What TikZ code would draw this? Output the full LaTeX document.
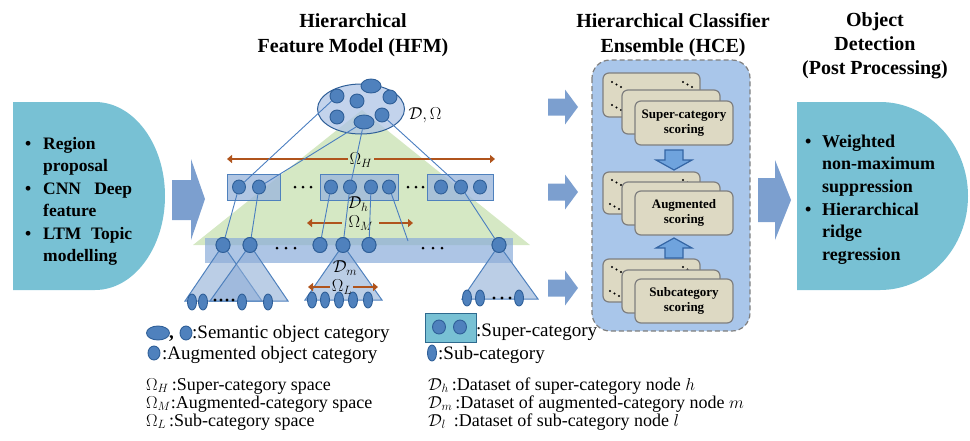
\documentclass[tikz,border=0pt]{standalone}
\usepackage{fontspec}
\setmainfont{Liberation Serif}
\usetikzlibrary{shapes.geometric,arrows.meta}
\definecolor{cyanD}{HTML}{78C1D4}
\definecolor{barrow}{HTML}{7C9FCF}
\definecolor{hcefill}{HTML}{A9C6EA}
\definecolor{cardfill}{HTML}{DDD9C3}
\definecolor{cardline}{HTML}{7F7F7F}
\definecolor{catfill}{HTML}{4F81BD}
\definecolor{catline}{HTML}{2F5F98}
\definecolor{linkc}{HTML}{4A7EC0}
\definecolor{greenT}{HTML}{D5E8C4}
\definecolor{bandc}{HTML}{8AACDA}
\definecolor{brownc}{HTML}{B0541C}
\definecolor{triFill}{HTML}{8EADD6}
\definecolor{boxfill}{HTML}{9DB8DC}
\definecolor{ellfill}{HTML}{AFC4E6}
\definecolor{sarrow}{HTML}{6FA3DD}
\definecolor{sarrowl}{HTML}{3465A4}
\definecolor{legbox}{HTML}{2E6A8E}
\begin{document}
\begin{tikzpicture}[x=1pt,y=-1pt,
  cat/.style={ellipse, draw=catline, fill=catfill, line width=0.9pt, inner sep=0pt, minimum width=13pt, minimum height=14pt},
  bigcat/.style={cat, minimum width=20pt, minimum height=14pt},
  aug/.style={cat, minimum width=14pt, minimum height=15pt},
  leaf/.style={cat, minimum width=9pt, minimum height=16pt},
  link/.style={draw=linkc, line width=0.9pt},
  hbox/.style={rectangle, draw=catfill, line width=1pt, fill=boxfill, fill opacity=0.8, inner sep=0pt, minimum height=26pt},
  tree/.style={draw=catfill, line width=1pt, fill=triFill, fill opacity=0.6},
  brar/.style={draw=brownc, line width=2.6pt},
  mathlab/.style={font=\fontsize{18}{20}\selectfont, inner sep=0pt},
  title/.style={font=\fontsize{20}{24.5}\selectfont\bfseries, inner sep=0pt, anchor=base},
  btext/.style={anchor=base west, font=\fontsize{17.5}{20}\selectfont\bfseries, inner sep=0pt},
  rtext/.style={anchor=base west, font=\fontsize{18}{20}\selectfont\bfseries, inner sep=0pt},
  legtext/.style={anchor=base west, font=\fontsize{18}{20}\selectfont, inner sep=0pt},
  card/.style={draw=cardline, fill=cardfill, line width=1.2pt, rounded corners=6pt},
  cardtext/.style={align=center, font=\fontsize{13}{15.5}\selectfont\bfseries, inner sep=0pt},
  dotc/.style={fill=black}
]
\useasboundingbox (0,0) rectangle (970,440);

% ---------- titles
\node[title] (t1a) at (353,27) {Hierarchical};
\node[title] (t1b) at (353,52) {Feature Model (HFM)};
\node[title] (t2a) at (673,27) {Hierarchical Classifier};
\node[title] (t2b) at (673,52) {Ensemble (HCE)};
\node[title] (t3a) at (875,26) {Object};
\node[title] (t3b) at (875,50) {Detection};
\node[title] (t3c) at (875,74) {(Post Processing)};

% ---------- left input shape
\fill[cyanD] (13,102) -- (95,102) .. controls (133.7,102) and (165,144.1) .. (165,196)
  .. controls (165,247.9) and (133.7,290) .. (95,290) -- (13,290) -- cycle;
\node[btext] at (25,149) {\textbullet};
\node[btext] (r1) at (43,149) {Region};
\node[btext] (r2) at (43,171) {proposal};
\node[btext] at (25,194) {\textbullet};
\node[btext] (r3) at (43,194) {\makebox[89pt][s]{CNN Deep}};
\node[btext] (r4) at (43,216) {feature};
\node[btext] at (25,239) {\textbullet};
\node[btext] (r5) at (43,239) {\makebox[89pt][s]{LTM Topic}};
\node[btext] (r6) at (43,261) {modelling};

% ---------- right output shape
\fill[cyanD] (797,102) -- (880,102) .. controls (928.6,102) and (968,144.1) .. (968,196)
  .. controls (968,247.9) and (928.6,290) .. (880,290) -- (797,290) -- cycle;
\node[rtext] at (805,147) {\textbullet};
\node[rtext] (o1) at (822,147) {Weighted};
\node[rtext] (o2) at (822,169.5) {non-maximum};
\node[rtext] (o3) at (822,192) {suppression};
\node[rtext] at (805,215) {\textbullet};
\node[rtext] (o4) at (822,215) {Hierarchical};
\node[rtext] (o5) at (822,237) {ridge};
\node[rtext] (o6) at (822,260) {regression};

% ---------- block arrows
\fill[barrow] (172,180) -- (191,180) -- (191,159) -- (205,199) -- (191,240) -- (191,220) -- (172,220) -- cycle;
\foreach \t in {107,192,288}{
  \fill[barrow] (548,\t-8.5) -- (565,\t-8.5) -- (565,\t-17.5) -- (578,\t) -- (565,\t+17.5) -- (565,\t+8.5) -- (548,\t+8.5) -- cycle;
}
\fill[barrow] (758,178) -- (775,178) -- (775,160) -- (791,200) -- (775,240) -- (775,222) -- (758,222) -- cycle;

% ---------- HCE
\draw[draw=gray, fill=hcefill, rounded corners=18pt, line width=1.2pt, dash pattern=on 5pt off 3pt] (592,60) rectangle (750,331);
% top stack
\draw[card] (603,73) rectangle (700,117);
\foreach \dx/\dy in {0/0,4.5/2.5,9/5}{
  \fill[dotc] (612+\dx,82+\dy) circle (1.2);
  \fill[dotc] (683+\dx,82+\dy) circle (1.2);
  \fill[dotc] (612+\dx,105+\dy) circle (1.2);
}
\draw[card] (622,90) rectangle (720,134);
\draw[card] (635,101) rectangle (733,145);
\node[cardtext] (c1) at (684,123) {Super-category\\scoring};
% middle stack
\draw[card] (603,172) rectangle (700,214);
\foreach \dx/\dy in {0/0,4.5/2.5,9/5}{
  \fill[dotc] (612+\dx,180+\dy) circle (1.2);
  \fill[dotc] (683+\dx,180+\dy) circle (1.2);
  \fill[dotc] (610+\dx,204+\dy) circle (1.2);
}
\draw[card] (622,182) rectangle (720,225);
\draw[card] (635,191) rectangle (733,235);
\node[cardtext] (c2) at (684,213) {Augmented\\scoring};
% bottom stack
\draw[card] (603,259) rectangle (700,302);
\foreach \dx/\dy in {0/0,4.5/2.5,9/5}{
  \fill[dotc] (612+\dx,267+\dy) circle (1.2);
  \fill[dotc] (683+\dx,267+\dy) circle (1.2);
  \fill[dotc] (610+\dx,291+\dy) circle (1.2);
}
\draw[card] (622,270) rectangle (720,313);
\draw[card] (635,279) rectangle (733,323);
\node[cardtext] (c3) at (684,301) {Subcategory\\scoring};
% small arrows
\draw[fill=sarrow, draw=sarrowl, line width=1.2pt] (665,150) -- (683,150) -- (683,160) -- (692,160) -- (674,170) -- (656,160) -- (665,160) -- cycle;
\draw[fill=sarrow, draw=sarrowl, line width=1.2pt] (665,258) -- (683,258) -- (683,248) -- (692,248) -- (674,238) -- (656,248) -- (665,248) -- cycle;

% ---------- HFM
\fill[greenT] (362,110) -- (530,245) -- (193,245) -- cycle;
\node[ellipse, draw=catline, line width=1pt, fill=ellfill, fill opacity=0.75, minimum width=87pt, minimum height=50pt, inner sep=0pt] (sem) at (361,109) {};
\node[cat, minimum width=14pt] (s1) at (337,96) {};
\node[bigcat] (s2) at (371,86) {};
\node[cat, minimum width=14pt] (s3) at (390,97) {};
\node[cat, minimum width=14pt] (s4) at (357,101) {};
\node[cat, minimum width=14pt] (s5) at (337,117) {};
\node[bigcat] (s6) at (364,122) {};
\node[cat, minimum width=14pt] (s7) at (382,115) {};
\node[mathlab] (DO) at (425,115) {$\mathcal{D},\Omega$};

% Omega_H arrow
\coordinate (OHl) at (227,159); \coordinate (OHa) at (348,159);
\coordinate (OHb) at (374,159); \coordinate (OHr) at (495,159);
\draw[brar, {Triangle[length=5pt,width=8pt]}-] (OHl) -- (OHa);
\draw[brar, -{Triangle[length=5pt,width=8pt]}] (OHb) -- (OHr);
\node[mathlab] (OH) at (361,160) {$\Omega_H$};

% super-category boxes
\node[hbox, minimum width=53pt] (hb1) at (253.5,187) {};
\node[hbox, minimum width=78pt] (hb2) at (359,187) {};
\node[hbox, minimum width=66pt] (hb3) at (460,187) {};

\node[cat] (h11) at (239,187) {};
\node[cat] (h12) at (259,187) {};
\node[cat] (h21) at (331,187) {};
\node[cat] (h22) at (350,187) {};
\node[cat] (h23) at (371,187) {};
\node[cat] (h24) at (389,187) {};
\node[cat] (h31) at (441,187) {};
\node[cat] (h32) at (461,187) {};
\node[cat] (h33) at (480,187) {};

% links level 1 -> 2
\draw[link] (s1) -- (h11);
\draw[link] (s6) -- (h12);
\draw[link] (s6) -- (h22);
\draw[link] (s7) -- (h32);

\foreach \x in {295,303,311,408,416,423} \fill[dotc] (\x,187) circle (1.5);
\node[mathlab] (Dh) at (358,204) {$\mathcal{D}_h$};

% Omega_M arrow
\coordinate (OMl) at (307,223); \coordinate (OMa) at (342,223);
\coordinate (OMb) at (379,223); \coordinate (OMr) at (413,223);
\draw[brar, {Triangle[length=5pt,width=8pt]}-] (OMl) -- (OMa);
\draw[brar, -{Triangle[length=5pt,width=8pt]}] (OMb) -- (OMr);
\node[mathlab] (OM) at (361,223) {$\Omega_M$};

% band
\fill[bandc, fill opacity=0.7] (205,238) rectangle (513,263);

% row 3 nodes
\node[aug] (m1) at (223,245) {};
\node[aug] (m2) at (250,245) {};
\node[aug] (m3) at (320,245) {};
\node[aug] (m4) at (343,245) {};
\node[aug] (m5) at (369,245) {};
\node[aug] (m6) at (499,245) {};
\coordinate (mfree) at (408,241);

% trees
\filldraw[tree] (m1.center) -- (185,301) -- (262,301) -- cycle;
\filldraw[tree] (m2.center) -- (210,301) -- (288,301) -- cycle;
\filldraw[tree] (m4.center) -- (305,300) -- (382,300) -- cycle;
\filldraw[tree] (m6.center) -- (462,299) -- (538,299) -- cycle;

% links level 2 -> 3
\draw[link] (h11) -- (m1);
\draw[link] (h12) -- (m2);
\draw[link] (h21) -- (m3);
\draw[link] (h22) -- (m4);
\draw[link] (h23) -- (m5);
\draw[link] (h24) -- (mfree);
\draw[link] (h32) -- (m6);

% redraw row 3 nodes on top
\node[aug] at (m1) {};
\node[aug] at (m2) {};
\node[aug] at (m3) {};
\node[aug] at (m4) {};
\node[aug] at (m5) {};
\node[aug] at (m6) {};
\foreach \x in {277,286,295,423,433,442} \fill[dotc] (\x,248) circle (1.5);

% leaves
\node[leaf] (l1) at (192,302) {};
\node[leaf] (l2) at (203,302) {};
\node[leaf] (l3) at (242,302) {};
\node[leaf] (l4) at (268,302) {};
\foreach \x in {215,221,227,233} \fill[dotc] (\x,300) circle (1.6);
\node[leaf] (l5) at (312,300) {};
\node[leaf] (l6) at (325,300) {};
\node[leaf] (l7) at (339,300) {};
\node[leaf] (l8) at (353,300) {};
\node[leaf] (l9) at (368,300) {};
\node[leaf] (l10) at (467,298) {};
\node[leaf] (l11) at (480,298) {};
\node[leaf] (l12) at (519,298) {};
\foreach \x in {494,502,510} \fill[dotc] (\x,298) circle (1.6);

\node[mathlab] (Dm) at (345,268) {$\mathcal{D}_m$};
\coordinate (OLl) at (308,287); \coordinate (OLa) at (330,287);
\coordinate (OLb) at (353,287); \coordinate (OLr) at (378,287);
\draw[brar, {Triangle[length=5pt,width=8pt]}-] (OLl) -- (OLa);
\draw[brar, -{Triangle[length=5pt,width=8pt]}] (OLb) -- (OLr);
\node[mathlab] (OL) at (342,287) {$\Omega_L$};

% ---------- legend
\node[bigcat, minimum width=23pt] (g1) at (158,333) {};
\node[legtext, font=\fontsize{19}{20}\selectfont\bfseries] (gc) at (169,338) {,};
\node[cat, minimum width=12pt] (g2) at (186,333) {};
\node[legtext, font=\fontsize{19}{20}\selectfont] (gt1) at (192,338) {:Semantic object category};
\node[cat, minimum width=12pt] (g3) at (154,353) {};
\node[legtext, font=\fontsize{19}{20}\selectfont] (gt2) at (162,359) {:Augmented object category};
\node[legtext] (gt3) at (146,390) {$\Omega_H$\,:Super-category space};
\node[legtext] (gt4) at (146,408) {$\Omega_M$:Augmented-category space};
\node[legtext] (gt5) at (146,426) {$\Omega_L$\,:Sub-category space};

\node[rectangle, draw=legbox, line width=1pt, fill=cyanD, minimum width=51pt, minimum height=29pt, inner sep=0pt] (gb) at (450.5,327.5) {};
\node[cat] (gb1) at (439,327) {};
\node[cat] (gb2) at (460,327) {};
\node[legtext, font=\fontsize{19}{20}\selectfont] (gt6) at (476,336) {:Super-category};
\node[leaf] (gl) at (432,353) {};
\node[legtext, font=\fontsize{19}{20}\selectfont] (gt7) at (438,359) {:Sub-category};
\node[legtext] (gt8) at (428,390) {$\mathcal{D}_h$\,:Dataset of super-category node $h$};
\node[legtext] (gt9) at (428,408) {$\mathcal{D}_m$\,:Dataset of augmented-category node $m$};
\node[legtext] (gt10) at (428,426) {$\mathcal{D}_l$\;\,:Dataset of sub-category node $l$};
\end{tikzpicture}
\end{document}
